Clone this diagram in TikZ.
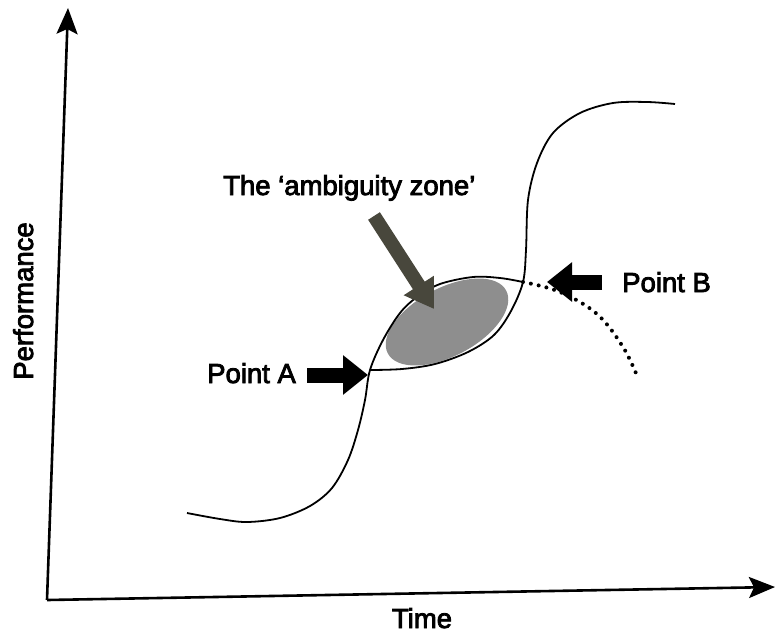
\documentclass[tikz,border=0pt]{standalone}
\usepackage{fontspec}
\setmainfont{Liberation Sans}[UprightFeatures={FakeBold=3}]
\usetikzlibrary{arrows.meta}
\definecolor{zonegrey}{HTML}{8E8E8E}
\definecolor{pointer}{HTML}{48473C}
\begin{document}
\begin{tikzpicture}[x=1pt,y=-1pt,
  axisline/.style={line width=2.6pt,-{Stealth[length=26pt,width=21pt,inset=5pt]}},
  curveline/.style={line width=1.8pt},
  dotline/.style={line width=4pt,line cap=round,dash pattern=on 0pt off 8pt},
  blockarrow/.style={line width=15pt,-{Triangle[length=25pt,width=38pt]}},
  zonearrow/.style={pointer,line width=14pt,-{Triangle[length=28pt,width=34pt]}},
  lbl/.style={font=\fontsize{27.5}{30}\selectfont,inner sep=0pt}]
\useasboundingbox (0,0) rectangle (775,635);
% axes
\coordinate (O) at (47,600);
\coordinate (ytop) at (68,8);
\coordinate (xend) at (775,587);
\draw[axisline] (O) -- (ytop);
\draw[axisline] (O) -- (xend);
\node[lbl,anchor=base] (tlab) at (422,628) {Time};
\node[lbl,anchor=base,rotate=90] (plab) at (33,301) {Performance};
% grey zone
\fill[zonegrey] (447,322) ellipse[x radius=67, y radius=34, rotate=28];
% key points
\coordinate (A) at (370,370);
\coordinate (B) at (523,282);
% first S-curve
\draw[curveline] plot[smooth,tension=0.55] coordinates {(187,513) (220,519) (247,522) (280,518) (310,506) (332,488) (348,460) (358,430) (365,400) (A) (383,340) (400,313) (417,297) (440,284) (473,277) (500,278) (B)};
% dotted continuation
\draw[dotline] plot[smooth,tension=0.6] coordinates {(B) (560,292) (597,314) (623,347) (638,378)};
% second S-curve
\draw[curveline] plot[smooth,tension=0.55] coordinates {(A) (402,369) (435,364) (468,352) (494,335) (511,311) (B) (526,250) (528,200) (537,163) (553,133) (580,113) (613,103) (647,102) (675,104)};
% labels
\node[lbl,anchor=base west] (la) at (207,383) {Point A};
\node[lbl,anchor=base west] (lb) at (622,292) {Point B};
\node[lbl,anchor=base west] (lz) at (223,195) {The ‘ambiguity zone’};
% block arrows
\coordinate (Atip) at (368,375);
\coordinate (Btip) at (547,282);
\coordinate (Ztip) at (434,309);
\draw[blockarrow] ([xshift=11pt]la.east |- Atip) -- (Atip);
\draw[blockarrow] ([xshift=-20pt]lb.west |- Btip) -- (Btip);
\draw[zonearrow] (374,216) -- (Ztip);
\end{tikzpicture}
\end{document}
